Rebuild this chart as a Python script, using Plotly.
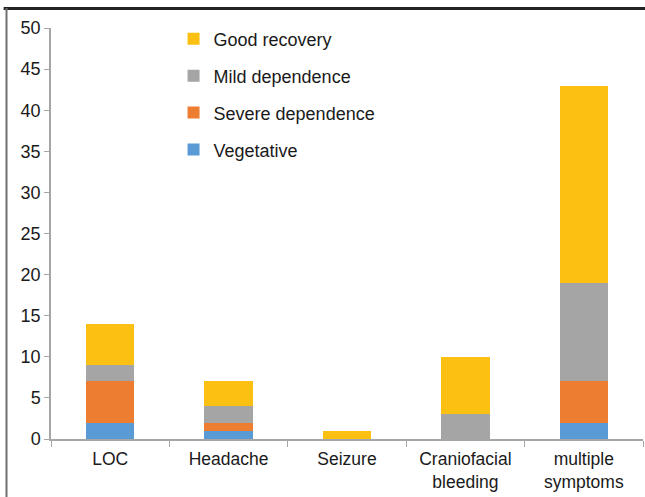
import plotly.graph_objects as go

categories = ["LOC", "Headache", "Seizure", "Craniofacial<br>bleeding", "multiple<br>symptoms"]
vegetative = [2, 1, 0, 0, 2]
severe = [5, 1, 0, 0, 5]
mild = [2, 2, 0, 3, 12]
good = [5, 3, 1, 7, 24]

series = [
    ("Vegetative", vegetative, "#5B9BD5", 4),
    ("Severe dependence", severe, "#ED7D31", 3),
    ("Mild dependence", mild, "#A5A5A5", 2),
    ("Good recovery", good, "#FBC012", 1),
]

fig = go.Figure()
for i, (name, vals, col, rank) in enumerate(series):
    fig.add_trace(go.Bar(x=categories, y=vals, name=name, marker_color=col,
                         marker_line_width=0, legendrank=rank, legendgroup=name))

fam = "Liberation Sans, Arial, sans-serif"
fig.update_layout(
    barmode="stack",
    bargap=0.59,
    width=645, height=497,
    margin=dict(l=51, r=2, t=28, b=58),
    paper_bgcolor="white", plot_bgcolor="white",
    font=dict(family=fam, size=18, color="#1a1a1a"),
    showlegend=True,
    legend=dict(x=0.207, y=1.018, xanchor="left", yanchor="top",
                traceorder="grouped", tracegroupgap=10.5,
                font=dict(family=fam, size=18, color="#1a1a1a"),
                bgcolor="rgba(0,0,0,0)"),
    xaxis=dict(showline=True, linecolor="#A6A6A6", linewidth=1.5,
               ticks="outside", tickson="boundaries", ticklen=6, tickcolor="#A6A6A6",
               ticklabelstandoff=3,
               showgrid=False, tickfont=dict(family=fam, size=17.5, color="#1a1a1a")),
    yaxis=dict(range=[0, 50], dtick=5, showline=True, linecolor="#A6A6A6", linewidth=1.5,
               ticks="outside", ticklen=5, tickcolor="#A6A6A6", showgrid=False,
               zeroline=False, tickfont=dict(family=fam, size=18, color="#1a1a1a")),
    shapes=[
        dict(type="line", xref="paper", yref="paper", x0=-0.08, x1=1.01,
             y0=1.0 + 19.5 / 411, y1=1.0 + 19.5 / 411, layer="above",
             line=dict(color="#222222", width=3)),
        dict(type="line", xref="paper", yref="paper", x0=-44.5 / 592, x1=-44.5 / 592,
             y0=1.0 + 20 / 411, y1=-60 / 411, line=dict(color="#707070", width=2)),
    ],
)

fig.write_html("out.html", config={"displayModeBar": False},
               post_script="document.body.style.margin='0';")
